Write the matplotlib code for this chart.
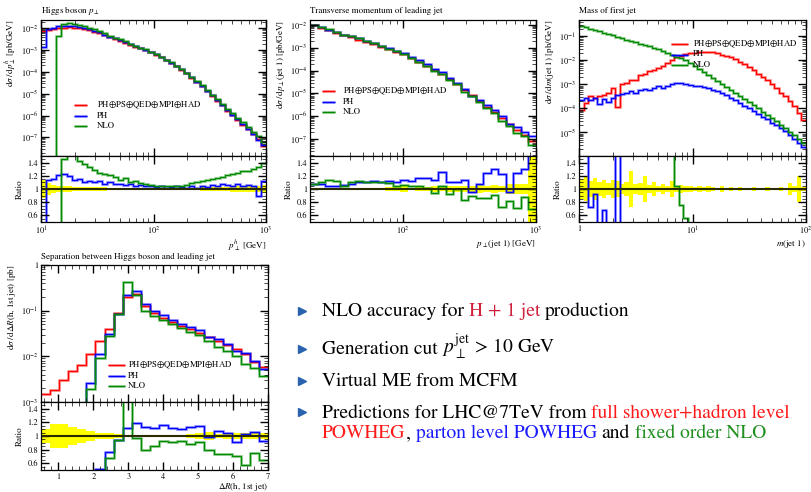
import numpy as np
import matplotlib
matplotlib.use('Agg')
import matplotlib.pyplot as plt
from matplotlib.ticker import LogLocator, MultipleLocator, NullFormatter

plt.rcParams['font.family'] = ['STIXGeneral', 'DejaVu Serif']
plt.rcParams['mathtext.fontset'] = 'stix'

W, H = 811, 492
RED, BLUE, GREEN = '#ff0000', '#0000ff', '#008a00'
LABELS = [r'PH$\oplus$PS$\oplus$QED$\oplus$MPI$\oplus$HAD', 'PH', 'NLO']

# ---- Higgs boson pT (44 log bins, 10..1000 GeV) ----
hpt_edges = np.logspace(1, 3, 45)
hpt_red = [7.4e-3, 8.3e-3, 9.1e-3, 1.0e-2, 1.05e-2, 1.1e-2, 1.07e-2, 1.0e-2, 9.1e-3, 8.1e-3,
           6.9e-3, 5.8e-3, 4.7e-3, 3.8e-3, 3.2e-3, 2.7e-3, 2.2e-3, 1.8e-3, 1.45e-3, 1.2e-3,
           1.0e-3, 7.9e-4, 6.2e-4, 4.8e-4, 3.5e-4, 2.6e-4, 1.8e-4, 1.26e-4, 8.5e-5, 5.5e-5,
           3.5e-5, 2.2e-5, 1.3e-5, 7.9e-6, 4.8e-6, 2.9e-6, 1.7e-6, 1.05e-6, 6.3e-7, 3.8e-7,
           2.3e-7, 1.4e-7, 8.3e-8, 4.2e-8]
hpt_ph = [0.18, 1.14, 1.15, 1.21, 1.22, 1.20, 1.13, 1.15, 1.10, 1.12,
          1.10, 1.12, 1.08, 1.10, 1.07, 1.08, 1.06, 1.07, 1.05, 1.06,
          1.04, 1.05, 1.03, 1.04, 1.02, 1.03, 1.05, 1.03, 1.01, 1.04,
          1.02, 1.05, 1.03, 1.06, 1.05, 1.07, 1.06, 1.05, 1.07, 1.04,
          1.06, 1.05, 0.90, 1.12]
hpt_nlo = [0, 0, 0, 0.45, 1.46, 1.56, 1.55, 1.43, 1.38, 1.33,
           1.29, 1.25, 1.23, 1.21, 1.18, 1.14, 1.16, 1.11, 1.12, 1.09,
           1.08, 1.06, 1.05, 1.05, 1.04, 1.05, 1.04, 1.05, 1.06, 1.09,
           1.10, 1.12, 1.13, 1.15, 1.17, 1.18, 1.21, 1.22, 1.25, 1.27,
           1.28, 1.31, 1.33, 1.40]
hpt_band = [0.13, 0.09, 0.06, 0.05, 0.04, 0.04, 0.035, 0.03, 0.03, 0.03,
            0.03, 0.025, 0.025, 0.02, 0.02, 0.02, 0.02, 0.015, 0.015, 0.015,
            0.015, 0.015, 0.015, 0.015, 0.015, 0.015, 0.02, 0.02, 0.02, 0.02,
            0.02, 0.025, 0.025, 0.03, 0.03, 0.03, 0.035, 0.045, 0.04, 0.045,
            0.04, 0.05, 0.05, 0.06]

# ---- leading jet pT (30 log bins, 20..1000 GeV) ----
jpt_edges = np.logspace(np.log10(20), 3, 31)
jpt_red = [9.5e-3, 7.4e-3, 5.8e-3, 4.6e-3, 3.6e-3, 2.9e-3, 2.3e-3, 1.8e-3, 1.4e-3, 1.1e-3,
           8.5e-4, 6.6e-4, 5.1e-4, 3.5e-4, 2.4e-4, 1.6e-4, 1.07e-4, 6.8e-5, 4.2e-5, 2.5e-5,
           1.45e-5, 8.3e-6, 4.7e-6, 2.6e-6, 1.5e-6, 8.3e-7, 4.7e-7, 2.6e-7, 1.5e-7, 8.3e-8]
jpt_ph = [1.07, 1.07, 1.05, 1.04, 1.06, 1.08, 1.11, 1.10, 1.12, 1.11,
          1.12, 1.11, 1.13, 1.12, 1.16, 1.17, 1.14, 1.26, 1.10, 1.10,
          1.13, 0.96, 1.08, 1.24, 1.31, 1.22, 0.96, 1.24, 1.30, 1.60]
jpt_nlo = [1.07, 1.10, 1.13, 1.12, 1.05, 1.10, 1.12, 1.10, 1.11, 1.10,
           1.09, 1.05, 1.06, 1.04, 1.04, 1.02, 0.94, 1.04, 0.93, 1.00,
           0.83, 0.89, 0.86, 0.87, 0.91, 0.73, 0.82, 0.71, 0.88, 0.69]
jpt_band = [0.02, 0.02, 0.02, 0.02, 0.02, 0.02, 0.02, 0.02, 0.02, 0.02,
            0.025, 0.03, 0.04, 0.02, 0.025, 0.03, 0.04, 0.03, 0.04, 0.05,
            0.04, 0.05, 0.06, 0.05, 0.06, 0.05, 0.07, 0.08, 0.07, 0.6]

# ---- mass of first jet (50 log bins, 1..100 GeV) ----
mj_edges = np.logspace(0, 2, 51)
mj_red = [8.7e-5, 1.66e-4, 3.16e-4, 2.8e-4, 3.3e-4, 3.7e-4, 4.4e-4, 7.1e-4, 1.2e-4, 1.0e-3,
          1.15e-3, 1.5e-3, 1.6e-3, 2.4e-3, 2.8e-3, 3.5e-3, 4.0e-3, 5.0e-3, 6.0e-3, 7.9e-3,
          1.05e-2, 1.38e-2, 1.58e-2, 1.78e-2, 2.0e-2, 2.1e-2, 2.2e-2, 2.24e-2, 2.2e-2, 2.14e-2,
          2.0e-2, 1.74e-2, 1.51e-2, 1.32e-2, 1.1e-2, 8.9e-3, 7.1e-3, 5.2e-3, 3.8e-3, 2.75e-3,
          2.0e-3, 1.51e-3, 1.05e-3, 7.1e-4, 4.6e-4, 3.2e-4, 2.0e-4, 1.26e-4, 6.3e-5, 3.2e-5]
mj_ph = [2.2e-4, 2.8e-4, 2.3e-4, 2.6e-4, 1.48e-4, 2.5e-4, 1.8e-4, 2.8e-4, 3.6e-4, 4.0e-4,
         4.2e-4, 5.2e-4, 4.6e-4, 5.6e-4, 6.2e-4, 5.9e-4, 7.1e-4, 8.2e-4, 7.4e-4, 8.9e-4,
         1.05e-3, 1.15e-3, 1.1e-3, 1.0e-3, 9.1e-4, 8.9e-4, 8.5e-4, 7.9e-4, 6.9e-4, 6.0e-4,
         5.2e-4, 4.4e-4, 3.5e-4, 2.75e-4, 2.2e-4, 1.66e-4, 1.26e-4, 1.0e-4, 7.9e-5, 6.0e-5,
         4.6e-5, 3.5e-5, 2.6e-5, 2.0e-5, 1.5e-5, 1.12e-5, 7.9e-6, 5.6e-6, 3.8e-6, 2.4e-6]
mj_nlo = [0.27, 0.24, 0.21, 0.18, 0.162, 0.141, 0.123, 0.11, 0.095, 0.083,
          0.074, 0.065, 0.056, 0.050, 0.044, 0.038, 0.033, 0.029, 0.0245, 0.021,
          0.0174, 0.0145, 0.012, 0.010, 0.0076, 0.0056, 0.0043, 0.0032, 0.00245, 0.00186,
          0.00141, 0.00107, 8.1e-4, 6.0e-4, 4.5e-4, 3.3e-4, 2.45e-4, 1.82e-4, 1.35e-4, 1.0e-4,
          7.4e-5, 5.5e-5, 4.0e-5, 2.9e-5, 2.1e-5, 1.5e-5, 1.07e-5, 7.6e-6, 5.2e-6, 3.6e-6]
mj_band = [0.15, 0.18, 0.12, 0.16, 0.10, 0.14, 0.09, 0.13, 0.12, 0.07,
           0.10, 0.28, 0.07, 0.09, 0.20, 0.06, 0.11, 0.05, 0.08, 0.05,
           0.12, 0.04, 0.06, 0.04, 0.05, 0.03, 0.05, 0.03, 0.04, 0.03,
           0.02, 0.04, 0.02, 0.03, 0.02, 0.03, 0.02, 0.02, 0.03, 0.02,
           0.02, 0.03, 0.02, 0.02, 0.03, 0.02, 0.09, 0.05, 0.20, 0.03]

# ---- Delta R(h, leading jet) (25 bins, 0.5..7) ----
dr_edges = np.linspace(0.5, 7.0, 26)
dr_red = [1.5e-3, 1.8e-3, 3.0e-3, 4.8e-3, 6.6e-3, 1.15e-2, 2.2e-2, 4.0e-2, 9.0e-2, 0.20,
          0.23, 0.125, 0.087, 0.068, 0.056, 0.046, 0.039, 0.032, 0.027, 0.022,
          0.018, 0.0145, 0.0115, 0.0075, 0.0057]
dr_ph = [0, 0, 0, 0, 0, 0.23, 0.51, 0.76, 0.94, 1.12,
         1.19, 1.13, 1.12, 1.16, 1.12, 1.10, 1.13, 1.15, 0.98, 1.08,
         1.04, 0.91, 1.03, 1.06, 0.93]
dr_nlo = [0, 0, 0, 0, 0, 0.17, 0.41, 0.68, 0.94, 2.1,
          0.97, 0.79, 0.86, 0.92, 0.91, 0.93, 0.88, 0.91, 0.80, 0.73,
          0.73, 0.70, 0.58, 0.75, 0.64]
dr_band = [0.10, 0.17, 0.17, 0.13, 0.10, 0.07, 0.05, 0.05, 0.03, 0.02,
           0.02, 0.02, 0.02, 0.02, 0.02, 0.02, 0.03, 0.04, 0.06, 0.03,
           0.05, 0.04, 0.05, 0.04, 0.05]

fig = plt.figure(figsize=(W / 100, H / 100), dpi=100)


def panel(left, right, top, mid, bottom, logx=True):
    main = fig.add_axes([left / W, 1 - mid / H, (right - left) / W, (mid - top) / H])
    rat = fig.add_axes([left / W, 1 - bottom / H, (right - left) / W, (bottom - mid) / H], sharex=main)
    if logx:
        main.set_xscale('log')
    main.set_yscale('log')
    for ax in (main, rat):
        ax.tick_params(which='both', direction='in', top=True, right=True, labelsize=6, pad=2)
        ax.tick_params(which='major', length=6, width=1.0)
        ax.tick_params(which='minor', length=3, width=0.5)
        for s in ax.spines.values():
            s.set_linewidth(0.9)
    if logx:
        main.xaxis.set_minor_locator(LogLocator(10, subs=np.arange(2, 10)))
        main.xaxis.set_minor_formatter(NullFormatter())
    main.yaxis.set_minor_locator(LogLocator(10, subs=np.arange(2, 10), numticks=20))
    main.yaxis.set_minor_formatter(NullFormatter())
    main.tick_params(labelbottom=False)
    rat.set_ylim(0.5, 1.5)
    rat.set_yticks([0.6, 0.8, 1.0, 1.2, 1.4], ['0.6', '0.8', '1', '1.2', '1.4'])
    rat.yaxis.set_minor_locator(MultipleLocator(0.05))
    rat.set_ylabel('Ratio', fontsize=6.5, labelpad=3)
    return main, rat


def steps(ax, edges, vals, color):
    ax.stairs(vals, edges, baseline=None, color=color, lw=2.2, alpha=0.3)
    ax.stairs(vals, edges, baseline=None, color=color, lw=1.0)


def fill_panel(main, rat, edges, red, ph, nlo, band):
    steps(main, edges, red, RED)
    steps(main, edges, ph, BLUE)
    steps(main, edges, nlo, GREEN)
    band = np.array(band)
    rat.stairs(1 + band, edges, baseline=1 - band, fill=True, color='#ffff00', lw=0)
    rat.axhline(1, color='#2b2b00', lw=1.5)
    steps(rat, edges, ph / np.array(red), BLUE)
    steps(rat, edges, nlo / np.array(red), GREEN)
    main.set_xlim(edges[0], edges[-1])


# panel 1: Higgs pT
m1, r1 = panel(41, 266, 20, 156, 222)
red = np.array(hpt_red)
fill_panel(m1, r1, hpt_edges, red, red * hpt_ph, red * hpt_nlo, hpt_band)
m1.set_ylim(1.4e-8, 2.4e-2)
m1.set_ylabel(r'd$\sigma\,/\,$d$p_\perp^h$ [pb/GeV]', fontsize=6.5, loc='top', labelpad=2)
r1.set_xlabel(r'$p_\perp^h$ [GeV]', fontsize=6.5, loc='right', labelpad=1)

# panel 2: leading jet pT
m2, r2 = panel(310, 536, 20, 156, 222)
red = np.array(jpt_red)
fill_panel(m2, r2, jpt_edges, red, red * jpt_ph, red * jpt_nlo, jpt_band)
m2.set_ylim(1.8e-8, 1.65e-2)
m2.set_ylabel(r'd$\sigma\,/\,$d$p_\perp$(jet 1) [pb/GeV]', fontsize=6.5, loc='top', labelpad=2)
r2.set_xlabel(r'$p_\perp$(jet 1) [GeV]', fontsize=6.5, loc='right', labelpad=1)

# panel 3: jet mass
m3, r3 = panel(579, 806, 20, 156, 222)
fill_panel(m3, r3, mj_edges, np.array(mj_red), np.array(mj_ph), np.array(mj_nlo), mj_band)
m3.set_ylim(1.05e-6, 0.48)
m3.set_xticks([1, 10, 100], ['1', '$10^1$', '$10^2$'])
m3.set_ylabel(r'd$\sigma\,/\,$d$m$(jet 1) [pb/GeV]', fontsize=6.5, loc='top', labelpad=2)
r3.set_xlabel(r'$m$(jet 1)', fontsize=6.5, loc='right', labelpad=1)

# panel 4: Delta R
m4, r4 = panel(41, 268, 265, 402, 470, logx=False)
red = np.array(dr_red)
fill_panel(m4, r4, dr_edges, red, red * dr_ph, red * dr_nlo, dr_band)
m4.set_ylim(1e-3, 1)
m4.set_yticks([1e-3, 1e-2, 1e-1, 1], ['$10^{-3}$', '$10^{-2}$', '$10^{-1}$', '1'])
m4.set_xticks(range(1, 8))
m4.xaxis.set_minor_locator(MultipleLocator(0.2))
m4.set_ylabel(r'd$\sigma\,/\,$d$\Delta R$(h, 1st jet) [pb]', fontsize=6.5, loc='top', labelpad=2)
r4.set_xlabel(r'$\Delta R$(h, 1st jet)', fontsize=6.5, loc='right', labelpad=-0.5)

# overlay in pixel coordinates for titles, legends and bullet text
ov = fig.add_axes([0, 0, 1, 1], zorder=10)
ov.set_xlim(0, W)
ov.set_ylim(H, 0)
ov.axis('off')
ov.patch.set_alpha(0)

titles = [(41, 13, r'Higgs boson $p_\perp$'),
          (310, 13, 'Transverse momentum of leading jet'),
          (579, 13, 'Mass of first jet'),
          (41, 259, 'Separation between Higgs boson and leading jet')]
for x, y, t in titles:
    ov.text(x, y, t, fontsize=6.5, va='baseline')


def legend(x0, x1, xt, y0, dy=10.5):
    for i, (lab, col) in enumerate(zip(LABELS, [RED, BLUE, GREEN])):
        y = y0 + i * dy
        ov.plot([x0, x1], [y, y], color=col, lw=2.2, alpha=0.3, solid_capstyle='butt')
        ov.plot([x0, x1], [y, y], color=col, lw=1.0, solid_capstyle='butt')
        ov.text(xt, y, lab, fontsize=6.3, va='center')


legend(74, 87, 97, 105)
legend(322, 335, 343, 91)
legend(671, 688, 693, 44)
legend(108, 125, 128, 365)

# bullet points
renderer = fig.canvas.get_renderer()
GAP = 4.8


def rich_line(x, y, parts, size=14):
    for text, color, gap in parts:
        x += gap
        t = ov.text(x, y, text, color=color, fontsize=size, va='baseline', ha='left')
        x += t.get_window_extent(renderer).width


CRIMSON, TRED, TBLUE, TGREEN = '#d0203c', '#ff1a1a', '#1a1aff', '#1f8f1f'
bullets = [
    (316.5, [('NLO accuracy for', 'k', 0), ('H + 1 jet', CRIMSON, GAP), ('production', 'k', GAP)]),
    (354, [('Generation cut', 'k', 0), (r'$p_\perp^{\mathrm{jet}}\,>\,10$ GeV', 'k', GAP)]),
    (386, [('Virtual ME from MCFM', 'k', 0)]),
    (417.5, [('Predictions for LHC@7TeV from', 'k', 0), ('full shower+hadron level', TRED, GAP)]),
]
for y, parts in bullets:
    ov.plot([302], [y - 5.5], marker='>', color='#2a62ad', markersize=6)
    rich_line(322, y, parts)
rich_line(322, 438.5, [('POWHEG', TRED, 0), (',', 'k', 0.5), ('parton level POWHEG', TBLUE, GAP),
                       ('and', 'k', GAP), ('fixed order NLO', TGREEN, GAP)])

fig.savefig('out.png', dpi=100)
